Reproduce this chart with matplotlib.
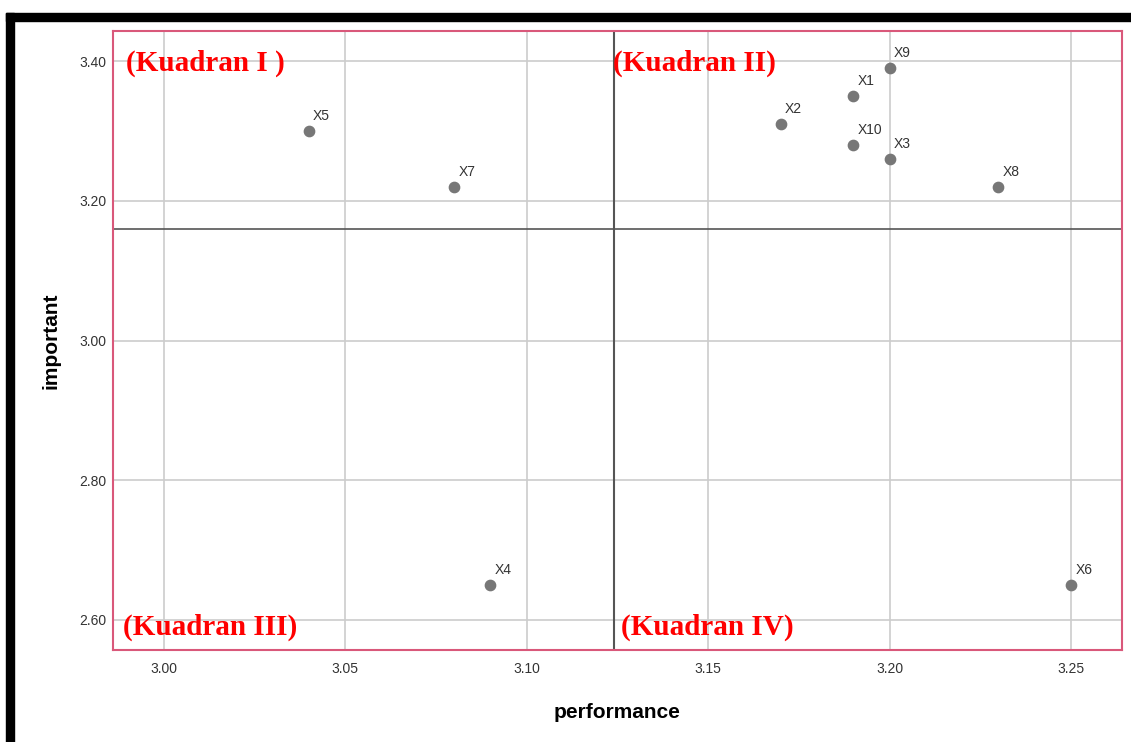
import matplotlib.pyplot as plt
from matplotlib.patches import Rectangle

plt.rcParams['font.family'] = ['Liberation Sans', 'DejaVu Sans']

# data
labels = ['X1', 'X2', 'X3', 'X4', 'X5', 'X6', 'X7', 'X8', 'X9', 'X10']
performance = [3.19, 3.17, 3.20, 3.09, 3.04, 3.25, 3.08, 3.23, 3.20, 3.19]
important = [3.35, 3.31, 3.26, 2.65, 3.30, 2.65, 3.22, 3.22, 3.39, 3.28]
x_cut = 3.124
y_cut = 3.16
x_ticks = [3.00, 3.05, 3.10, 3.15, 3.20, 3.25]
y_ticks = [2.60, 2.80, 3.00, 3.20, 3.40]
quadrants = [('(Kuadran I )', 2.9895, 3.397), ('(Kuadran II)', 3.1237, 3.397),
             ('(Kuadran III)', 2.9888, 2.590), ('(Kuadran IV)', 3.126, 2.590)]

fig = plt.figure(figsize=(11.31, 7.42), dpi=100)
ax = fig.add_axes([0.0999, 0.124, 0.892, 0.834])

# black frame around the screenshot
fig.add_artist(Rectangle((6 / 1131, 0), 8 / 1131, 1 - 13 / 742, transform=fig.transFigure,
                         color='black', zorder=10))
fig.add_artist(Rectangle((6 / 1131, 1 - 21 / 742), 1, 8 / 742, transform=fig.transFigure,
                         color='black', zorder=10))

ax.set_xlim(2.986, 3.264)
ax.set_ylim(2.557, 3.443)
ax.set_xticks(x_ticks)
ax.set_yticks(y_ticks)
ax.set_xticklabels(['%.2f' % v for v in x_ticks])
ax.set_yticklabels(['%.2f' % v for v in y_ticks])
ax.tick_params(axis='both', length=0, labelsize=10, colors='#333333')
ax.tick_params(axis='x', pad=9)
ax.tick_params(axis='y', pad=5)
ax.grid(True, color='#cccccc', linewidth=1.2)
ax.set_axisbelow(True)
for s in ax.spines.values():
    s.set_color('#d9587a')
    s.set_linewidth(1.5)

ax.axvline(x_cut, color='#555555', linewidth=1.5)
ax.axhline(y_cut, color='#555555', linewidth=1.2)

ax.scatter(performance, important, s=55, color='#777777', zorder=3)
for lab, x, y in zip(labels, performance, important):
    ax.annotate(lab, (x, y), xytext=(3, 6), textcoords='offset points',
                fontsize=10, color='#333333', ha='left', va='bottom')

for txt, x, y in quadrants:
    ax.text(x, y, txt, color='red', fontsize=21, fontweight='bold',
            family='Liberation Serif', ha='left', va='center', zorder=5)

ax.set_xlabel('performance', fontsize=15, fontweight='bold', labelpad=19)
ax.set_ylabel('important', fontsize=15, fontweight='bold', labelpad=13)

fig.savefig('out.png', dpi=100)
